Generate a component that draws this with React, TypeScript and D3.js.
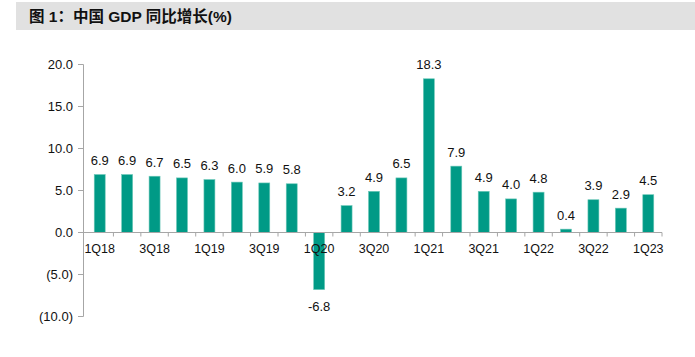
import React from "react";
import * as d3 from "d3";

const categories = ["1Q18","2Q18","3Q18","4Q18","1Q19","2Q19","3Q19","4Q19","1Q20","2Q20","3Q20","4Q20","1Q21","2Q21","3Q21","4Q21","1Q22","2Q22","3Q22","4Q22","1Q23"];
const values = [6.9,6.9,6.7,6.5,6.3,6.0,5.9,5.8,-6.8,3.2,4.9,6.5,18.3,7.9,4.9,4.0,4.8,0.4,3.9,2.9,4.5];
const yTicks = [20,15,10,5,0,-5,-10];
const title = "图 1：中国 GDP 同比增长(%)";

const W = 695, H = 357;
const FONT = "'Liberation Sans', Arial, Helvetica, sans-serif";

function fmtTick(v: number) {
  return v < 0 ? `(${Math.abs(v).toFixed(1)})` : v.toFixed(1);
}

export default function App() {
  const x = d3.scaleBand<string>().domain(categories).range([86, 662]).paddingInner(0.6).paddingOuter(0.3);
  const step = x.step();
  const y = d3.scaleLinear().domain([-10, 20]).range([316.5, 64.5]);
  const axisColor = "#a6a6a6";
  const barColor = "#009a86";
  const y0 = y(0);
  const xStart = 86;
  return (
    <svg width={W} height={H} style={{ position: "absolute", left: 0, top: 0 }} fontFamily={FONT}>
      <rect x={16} y={2} width={W - 16} height={28} fill="#e1e1e1" />
      <text x={29} y={22} fontSize={15.5} fontWeight="bold" fill="#111" fontFamily={FONT + ", 'Noto Sans CJK SC'"}>{title}</text>
      {/* y axis */}
      <line x1={83.5} x2={83.5} y1={y(20)} y2={y(-10)} stroke={axisColor} strokeWidth={1} />
      {yTicks.map(t => (
        <g key={t}>
          <line x1={78} x2={83.5} y1={y(t)} y2={y(t)} stroke={axisColor} />
          <text x={73} y={y(t) + 4.5} fontSize={13} textAnchor="end" fill="#111">{fmtTick(t)}</text>
        </g>
      ))}
      {/* bars */}
      {categories.map((c, i) => {
        const v = values[i];
        const top = y(Math.max(0, v));
        const h = Math.abs(y(v) - y0);
        return (
          <rect key={c} x={x(c)!} y={top} width={x.bandwidth()} height={h} fill={barColor} stroke="#6cc8b8" strokeWidth={0.6} />
        );
      })}
      {/* x axis */}
      <line x1={83} x2={662} y1={y0} y2={y0} stroke={axisColor} strokeWidth={1.2} />
      {categories.map((c, i) => (
        <line key={"t" + c} x1={xStart + step * (i + 1)} x2={xStart + step * (i + 1)} y1={y0} y2={y0 + 4} stroke={axisColor} />
      ))}
      {categories.map((c, i) => i % 2 === 0 ? (
        <text key={"l" + c} x={x(c)! + x.bandwidth() / 2} y={252.5} fontSize={12.5} textAnchor="middle" fill="#111">{c}</text>
      ) : null)}
      {/* value labels */}
      {categories.map((c, i) => {
        const v = values[i];
        const cx = x(c)! + x.bandwidth() / 2;
        const ty = v >= 0 ? y(v) - 9.5 : y(v) + 21;
        return <text key={"v" + c} x={cx} y={ty} fontSize={13} textAnchor="middle" fill="#111">{v.toFixed(1)}</text>;
      })}
    </svg>
  );
}
